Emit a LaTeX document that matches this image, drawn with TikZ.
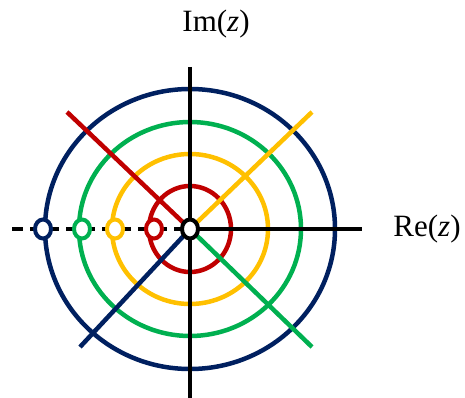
\documentclass[tikz,border=0pt]{standalone}
\usepackage{fontspec}
\setmainfont{Liberation Serif}
\definecolor{navy}{RGB}{0,32,96}
\definecolor{ogreen}{RGB}{0,176,80}
\definecolor{gold}{RGB}{255,192,0}
\definecolor{ored}{RGB}{192,0,0}
\begin{document}
\begin{tikzpicture}[x=1pt, y=-1pt, line width=4.5pt,
        lbl/.style={font=\fontsize{31}{36}\selectfont, inner sep=0pt},
        pole/.style={line width=4pt, fill=white}]
            \useasboundingbox (0,0) rectangle (465,398);
            \coordinate (O) at (190,229);
            \draw[navy] (O) ellipse (145 and 140);
            \draw[ogreen] (O) ellipse (111 and 107);
            \draw[gold] (O) ellipse (78 and 75);
            \draw[ored] (O) ellipse (41 and 43);
            \draw[ored] (67,112) -- (O);
            \draw[gold] (O) -- (312,112);
            \draw[navy] (O) -- (80,347);
            \draw[ogreen] (O) -- (312,347);
            \draw (190,67) -- (190,398);
            \draw (O) -- (362,229);
            \draw[dash pattern=on 11pt off 7pt] (12,229) -- (O);
            \draw[navy, pole] (43,229) ellipse (8 and 9.5);
            \draw[ogreen, pole] (82,229) ellipse (8 and 9.5);
            \draw[gold, pole] (115,229) ellipse (8 and 9.5);
            \draw[ored, pole] (154,229) ellipse (8 and 9.5);
            \draw[pole] (O) ellipse (8 and 9.5);
            \node[lbl] (im) at (216,24) {Im(\textit{z})};
            \node[lbl] (re) at (427,229) {Re(\textit{z})};
        \end{tikzpicture}
\end{document}
